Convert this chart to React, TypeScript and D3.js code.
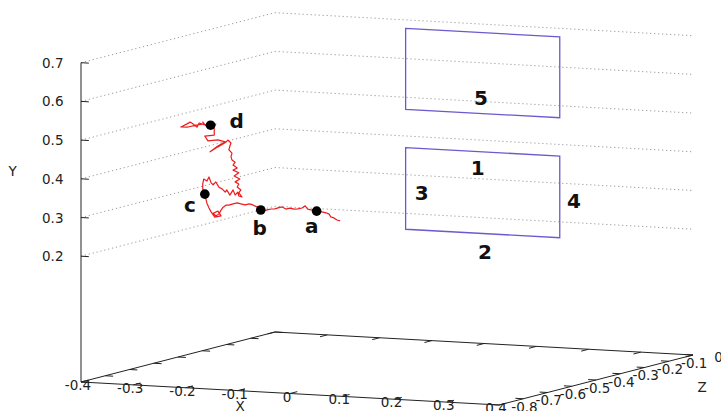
import React, { useEffect, useRef } from 'react';
import * as d3 from 'd3';

const xTicks = [-0.4, -0.3, -0.2, -0.1, 0, 0.1, 0.2, 0.3, 0.4];
const yTicks = [0.2, 0.3, 0.4, 0.5, 0.6, 0.7];
const zTicks = [-0.8, -0.7, -0.6, -0.5, -0.4, -0.3, -0.2, -0.1, 0];

// random walk (plane z = -0.8)
const walkZ = -0.8;
const walkX = [
  0.096, 0.090, 0.084, 0.078, 0.075, 0.069, 0.061, 0.055, 0.050, 0.042,
  0.034, 0.029, 0.023, 0.015, 0.008, 0.000, -0.008, -0.015, -0.023, -0.029,
  -0.036, -0.044, -0.050, -0.056, -0.063, -0.071, -0.078, -0.086, -0.094, -0.101,
  -0.109, -0.117, -0.122, -0.128, -0.132, -0.136, -0.142, -0.147, -0.138, -0.132,
  -0.144, -0.151, -0.155, -0.159, -0.161, -0.163, -0.167, -0.167, -0.165, -0.159,
  -0.155, -0.151, -0.147, -0.142, -0.136, -0.130, -0.124, -0.121, -0.115, -0.109,
  -0.105, -0.100, -0.098,
  -0.092, -0.098, -0.094, -0.101, -0.098, -0.105, -0.096, -0.107, -0.098, -0.109,
  -0.101, -0.109, -0.105, -0.111, -0.113, -0.111, -0.117, -0.115, -0.113, -0.119,
  -0.122, -0.138, -0.153, -0.138, -0.124, -0.138, -0.157, -0.163, -0.145, -0.145,
  -0.145, -0.142, -0.149, -0.157, -0.167, -0.163, -0.174, -0.178, -0.186, -0.191,
  -0.197, -0.205, -0.209,
  -0.195, -0.180, -0.165, -0.153,
];
const walkY = [
  0.328, 0.330, 0.335, 0.337, 0.344, 0.347, 0.349, 0.351, 0.350, 0.352,
  0.354, 0.362, 0.356, 0.353, 0.352, 0.354, 0.351, 0.356, 0.353, 0.350,
  0.349, 0.346, 0.343, 0.345, 0.352, 0.357, 0.359, 0.356, 0.358, 0.360,
  0.357, 0.353, 0.353, 0.347, 0.339, 0.329, 0.323, 0.330, 0.336, 0.324,
  0.320, 0.333, 0.343, 0.355, 0.366, 0.378, 0.391, 0.404, 0.417, 0.412,
  0.423, 0.408, 0.403, 0.411, 0.398, 0.394, 0.386, 0.392, 0.379, 0.393,
  0.380, 0.388, 0.378,
  0.376, 0.386, 0.394, 0.401, 0.409, 0.414, 0.422, 0.429, 0.438, 0.444,
  0.450, 0.457, 0.465, 0.470, 0.478, 0.488, 0.496, 0.506, 0.514, 0.521,
  0.516, 0.502, 0.488, 0.504, 0.516, 0.520, 0.516, 0.528, 0.532, 0.542,
  0.553, 0.561, 0.555, 0.549, 0.564, 0.557, 0.561, 0.550, 0.558, 0.562,
  0.557, 0.551, 0.548,
  0.549, 0.555, 0.559, 0.555,
];

const markNames = ['a', 'b', 'c', 'd'];
const markX = [0.051, -0.056, -0.163, -0.152];
const markY = [0.350, 0.345, 0.378, 0.557];

// two boxes on the back plane z = 0
const boxZ = 0;
const boxX0 = [-0.15, -0.15];
const boxX1 = [0.145, 0.145];
const boxY0 = [0.159, 0.469];
const boxY1 = [0.370, 0.678];

const noteText = ['1', '2', '3', '4', '5'];
const noteX = [-0.012, 0.002, -0.119, 0.172, -0.006];
const noteY = [0.328, 0.112, 0.254, 0.255, 0.508];

const fmt = (v: number) => (Math.abs(v) < 1e-9 ? '0' : v.toFixed(1));

const Plot3D = () => {
  const ref = useRef<SVGSVGElement>(null);

  useEffect(() => {
    const svg = d3.select(ref.current);
    svg.selectAll('*').remove();

    const yFloor = -0.125;
    const ox = 81;
    const xh = d3.scaleLinear().domain([-0.4, 0.4]).range([0, 418]);
    const xv = d3.scaleLinear().domain([-0.4, 0.4]).range([0, 23]);
    const zh = d3.scaleLinear().domain([-0.8, 0]).range([0, 194]);
    const zv = d3.scaleLinear().domain([-0.8, 0]).range([0, -50]);
    const yv = d3.scaleLinear().domain([yFloor, 0.7]).range([382, 62.7]);

    const P = (x: number, y: number, z: number): [number, number] =>
      [ox + xh(x) + zh(z), yv(y) + xv(x) + zv(z)];

    const line = d3.line();
    const font = 'DejaVu Sans, sans-serif';
    const ink = '#222';

    // grid on the back walls
    const grid = svg.append('g');
    yTicks.forEach(y => {
      grid.append('path')
        .attr('d', line([P(-0.4, y, -0.8), P(-0.4, y, 0), P(0.4, y, 0)]))
        .attr('fill', 'none')
        .attr('stroke', '#9a9a9a')
        .attr('stroke-width', 1)
        .attr('stroke-dasharray', '1.2 2.8');
    });

    // base frame + vertical axis
    const frame = svg.append('g').attr('stroke', '#222').attr('fill', 'none').attr('stroke-width', 1);
    frame.append('path').attr('d', line([
      P(-0.4, yFloor, -0.8), P(0.4, yFloor, -0.8), P(0.4, yFloor, 0), P(-0.4, yFloor, 0), P(-0.4, yFloor, -0.8),
    ]) + 'Z');
    frame.append('path').attr('d', line([P(-0.4, yFloor, -0.8), P(-0.4, 0.7, -0.8)]));

    // ticks
    xTicks.forEach(x => {
      frame.append('path').attr('d', line([P(x, yFloor, -0.8), P(x, yFloor, -0.77)]));
      frame.append('path').attr('d', line([P(x, yFloor, 0), P(x, yFloor, -0.03)]));
    });
    zTicks.forEach(z => {
      frame.append('path').attr('d', line([P(0.4, yFloor, z), P(0.385, yFloor, z)]));
      frame.append('path').attr('d', line([P(-0.4, yFloor, z), P(-0.385, yFloor, z)]));
    });
    yTicks.forEach(y => {
      frame.append('path').attr('d', line([P(-0.4, y, -0.8), P(-0.385, y, -0.8)]));
    });

    // tick labels
    const txt = svg.append('g').attr('font-family', font).attr('font-size', 13.5).attr('fill', ink);
    xTicks.forEach(x => {
      const [px, py] = P(x, yFloor, -0.8);
      txt.append('text').attr('x', px - 3).attr('y', py + 3)
        .attr('text-anchor', 'middle').attr('dominant-baseline', 'central').text(fmt(x));
    });
    zTicks.forEach(z => {
      const [px, py] = P(0.4, yFloor, z);
      txt.append('text').attr('x', px + 25.5).attr('y', py + 1.5)
        .attr('text-anchor', 'middle').attr('dominant-baseline', 'central').text(fmt(z));
    });
    yTicks.forEach(y => {
      const [px, py] = P(-0.4, y, -0.8);
      txt.append('text').attr('x', px - 17.5).attr('y', py)
        .attr('text-anchor', 'end').attr('dominant-baseline', 'central').text(fmt(y));
    });
    txt.append('text').attr('x', 240).attr('y', 406).attr('text-anchor', 'middle')
      .attr('dominant-baseline', 'central').text('X');
    txt.append('text').attr('x', 702).attr('y', 387).attr('text-anchor', 'middle')
      .attr('dominant-baseline', 'central').text('Z');
    txt.append('text').attr('x', 12.7).attr('y', 170.7).attr('text-anchor', 'middle')
      .attr('dominant-baseline', 'central').text('Y');

    // boxes
    boxX0.forEach((_, i) => {
      const pts = [
        P(boxX0[i], boxY1[i], boxZ), P(boxX1[i], boxY1[i], boxZ),
        P(boxX1[i], boxY0[i], boxZ), P(boxX0[i], boxY0[i], boxZ),
      ];
      svg.append('path').attr('d', line(pts) + 'Z')
        .attr('fill', 'none').attr('stroke', '#6a5acd').attr('stroke-width', 1.3);
    });

    // walk
    const walk = walkX.map((x, i) => P(x, walkY[i], walkZ));
    svg.append('path').attr('d', line(walk))
      .attr('fill', 'none').attr('stroke', '#ee1c1c').attr('stroke-width', 1.2)
      .attr('stroke-linejoin', 'round');

    // marked points
    const offs: [number, number][] = [[-5, 22], [-1, 25], [-15, 18], [26, 3]];
    markNames.forEach((name, i) => {
      const [px, py] = P(markX[i], markY[i], walkZ);
      svg.append('circle').attr('cx', px).attr('cy', py).attr('r', 4.8).attr('fill', '#000');
      svg.append('text').attr('x', px + offs[i][0]).attr('y', py + offs[i][1])
        .attr('text-anchor', 'middle').attr('font-family', font).attr('font-weight', 'bold')
        .attr('font-size', 20).attr('fill', '#111').text(name);
    });

    // box notes
    noteText.forEach((t, i) => {
      const [px, py] = P(noteX[i], noteY[i], boxZ);
      svg.append('text').attr('x', px).attr('y', py)
        .attr('text-anchor', 'middle').attr('dominant-baseline', 'central')
        .attr('font-family', font).attr('font-weight', 'bold').attr('font-size', 20)
        .attr('fill', '#111').text(t);
    });
  }, []);

  return (
    <svg ref={ref} width={721} height={411}
      style={{ position: 'absolute', left: 0, top: 0, background: '#fff' }} />
  );
};

export default function App() {
  return <Plot3D />;
}
